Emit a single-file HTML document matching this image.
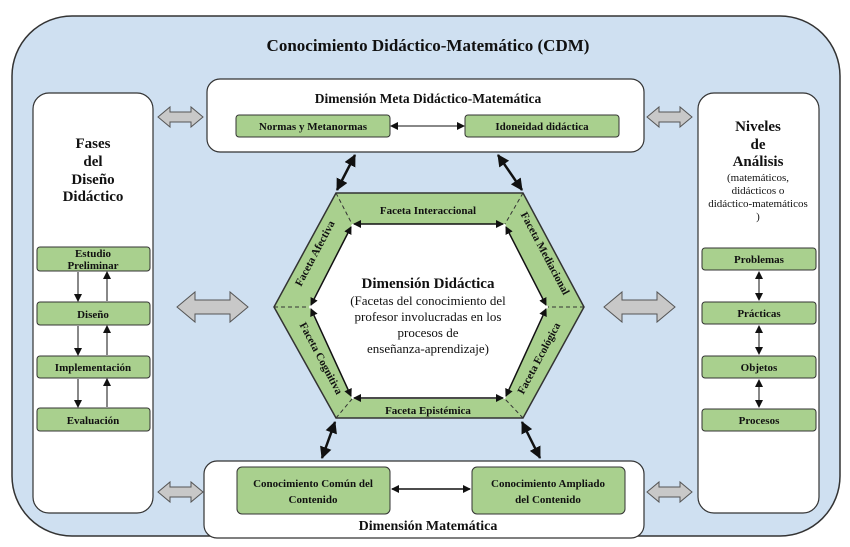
<!DOCTYPE html>
<html><head><meta charset="utf-8"><style>
html,body{margin:0;padding:0;background:#fff;}
svg{display:block;}
text{font-family:"Liberation Serif",serif;font-weight:bold;fill:#111;}
.n{font-weight:normal;}
</style></head><body>
<svg width="850" height="547" viewBox="0 0 850 547" xmlns="http://www.w3.org/2000/svg">
<defs>
<marker id="a" markerWidth="8" markerHeight="8" refX="7" refY="4" orient="auto-start-reverse" markerUnits="userSpaceOnUse"><path d="M0,0 L8,4 L0,8 z" fill="#111"/></marker>
<marker id="b" markerWidth="12" markerHeight="12" refX="11" refY="6" orient="auto-start-reverse" markerUnits="userSpaceOnUse"><path d="M0,0 L12,6 L0,12 z" fill="#111"/></marker>
<g id="ga"><path d="M0,0 L12,-10 L12,-5 L33,-5 L33,-10 L45,0 L33,10 L33,5 L12,5 L12,10 z" fill="#c8c8c8" stroke="#555" stroke-width="1"/></g>
<g id="gb"><path d="M0,0 L18,-15 L18,-7 L53,-7 L53,-15 L71,0 L53,15 L53,7 L18,7 L18,15 z" fill="#c8c8c8" stroke="#555" stroke-width="1"/></g>
</defs>
<rect x="12" y="16" width="828" height="520" rx="60" fill="#cfe0f1" stroke="#333" stroke-width="1.5"/>
<text x="428" y="51" font-size="17" text-anchor="middle">Conocimiento Didáctico-Matemático (CDM)</text>

<rect x="33" y="93" width="120" height="420" rx="16" fill="#fff" stroke="#333" stroke-width="1.2"/>
<g font-size="15" text-anchor="middle">
<text x="93" y="148">Fases</text><text x="93" y="166">del</text><text x="93" y="184">Diseño</text><text x="93" y="201">Didáctico</text>
</g>
<g fill="#a9d08e" stroke="#333" stroke-width="1">
<rect x="37" y="247" width="113" height="24" rx="3"/>
<rect x="37" y="302" width="113" height="23" rx="3"/>
<rect x="37" y="356" width="113" height="22" rx="3"/>
<rect x="37" y="408" width="113" height="23" rx="3"/>
</g>
<g font-size="11" text-anchor="middle">
<text x="93" y="257">Estudio</text><text x="93" y="269">Preliminar</text>
<text x="93" y="318">Diseño</text>
<text x="93" y="371">Implementación</text>
<text x="93" y="424">Evaluación</text>
</g>
<g stroke="#111" stroke-width="1">
<line x1="78" y1="272" x2="78" y2="301" marker-end="url(#a)"/>
<line x1="107" y1="301" x2="107" y2="272" marker-end="url(#a)"/>
<line x1="78" y1="326" x2="78" y2="355" marker-end="url(#a)"/>
<line x1="107" y1="355" x2="107" y2="326" marker-end="url(#a)"/>
<line x1="78" y1="379" x2="78" y2="407" marker-end="url(#a)"/>
<line x1="107" y1="407" x2="107" y2="379" marker-end="url(#a)"/>
</g>

<rect x="698" y="93" width="121" height="420" rx="16" fill="#fff" stroke="#333" stroke-width="1.2"/>
<g font-size="15" text-anchor="middle">
<text x="758" y="131">Niveles</text><text x="758" y="149">de</text><text x="758" y="166">Análisis</text>
</g>
<g font-size="11" text-anchor="middle">
<text class="n" x="758" y="181">(matemáticos,</text><text class="n" x="758" y="194">didácticos o</text><text class="n" x="758" y="207">didáctico-matemáticos</text><text class="n" x="758" y="220">)</text>
</g>
<g fill="#a9d08e" stroke="#333" stroke-width="1">
<rect x="702" y="248" width="114" height="22" rx="3"/>
<rect x="702" y="302" width="114" height="22" rx="3"/>
<rect x="702" y="356" width="114" height="22" rx="3"/>
<rect x="702" y="409" width="114" height="22" rx="3"/>
</g>
<g font-size="11" text-anchor="middle">
<text x="759" y="263">Problemas</text>
<text x="759" y="317">Prácticas</text>
<text x="759" y="371">Objetos</text>
<text x="759" y="424">Procesos</text>
</g>
<g stroke="#111" stroke-width="1" marker-end="url(#a)" marker-start="url(#a)">
<line x1="759" y1="272" x2="759" y2="300"/>
<line x1="759" y1="326" x2="759" y2="354"/>
<line x1="759" y1="380" x2="759" y2="407"/>
</g>

<rect x="207" y="79" width="437" height="73" rx="13" fill="#fff" stroke="#333" stroke-width="1.2"/>
<text x="428" y="103" font-size="13.5" text-anchor="middle">Dimensión Meta Didáctico-Matemática</text>
<g fill="#a9d08e" stroke="#333" stroke-width="1">
<rect x="236" y="115" width="154" height="22" rx="3"/>
<rect x="465" y="115" width="154" height="22" rx="3"/>
</g>
<text x="313" y="130" font-size="11" text-anchor="middle">Normas y Metanormas</text>
<text x="542" y="130" font-size="11" text-anchor="middle">Idoneidad didáctica</text>
<line x1="391" y1="126" x2="464" y2="126" stroke="#111" stroke-width="1" marker-start="url(#a)" marker-end="url(#a)"/>

<rect x="204" y="461" width="440" height="77" rx="13" fill="#fff" stroke="#333" stroke-width="1.2"/>
<text x="428" y="530" font-size="14" text-anchor="middle">Dimensión Matemática</text>
<g fill="#a9d08e" stroke="#333" stroke-width="1">
<rect x="237" y="467" width="153" height="47" rx="5"/>
<rect x="472" y="467" width="153" height="47" rx="5"/>
</g>
<g font-size="11" text-anchor="middle">
<text x="313" y="487">Conocimiento Común del</text><text x="313" y="503">Contenido</text>
<text x="548" y="487">Conocimiento Ampliado</text><text x="548" y="503">del Contenido</text>
</g>
<line x1="392" y1="489" x2="470" y2="489" stroke="#111" stroke-width="1.5" marker-start="url(#a)" marker-end="url(#a)"/>

<polygon points="336,193 523,193 584,307 523,418 336,418 274,307" fill="#a9d08e" stroke="#333" stroke-width="1.5"/>
<polygon points="352,224 505,224 548,307 505,399 352,399 309,307" fill="#fff"/>
<g stroke="#333" stroke-width="1" stroke-dasharray="4,3">
<line x1="336" y1="193" x2="352" y2="224"/><line x1="523" y1="193" x2="505" y2="224"/>
<line x1="584" y1="307" x2="548" y2="307"/><line x1="523" y1="418" x2="505" y2="399"/>
<line x1="336" y1="418" x2="352" y2="399"/><line x1="274" y1="307" x2="309" y2="307"/>
</g>
<g stroke="#111" stroke-width="1.5" marker-start="url(#a)" marker-end="url(#a)">
<line x1="354" y1="224" x2="503" y2="224"/>
<line x1="354" y1="398" x2="503" y2="398"/>
<line x1="351" y1="227" x2="311" y2="305"/>
<line x1="311" y1="309" x2="351" y2="396"/>
<line x1="506" y1="227" x2="546" y2="305"/>
<line x1="546" y1="309" x2="506" y2="396"/>
</g>
<g font-size="11" text-anchor="middle">
<text x="428" y="214">Faceta Interaccional</text>
<text x="428" y="414">Faceta Epistémica</text>
<text transform="translate(318,255) rotate(-62)">Faceta  Afectiva</text>
<text transform="translate(318,360) rotate(62)">Faceta Cognitiva</text>
<text transform="translate(542,255) rotate(62)">Faceta Mediacional</text>
<text transform="translate(542,360) rotate(-62)">Faceta Ecológica</text>
</g>
<text x="428" y="288" font-size="15" text-anchor="middle">Dimensión Didáctica</text>
<g font-size="13" text-anchor="middle">
<text class="n" x="428" y="305">(Facetas del conocimiento del</text>
<text class="n" x="428" y="321">profesor involucradas en los</text>
<text class="n" x="428" y="337">procesos de</text>
<text class="n" x="428" y="353">enseñanza-aprendizaje)</text>
</g>

<g stroke="#111" stroke-width="2.5" marker-start="url(#b)" marker-end="url(#b)">
<line x1="355" y1="155" x2="337" y2="190"/>
<line x1="498" y1="155" x2="522" y2="190"/>
<line x1="335" y1="422" x2="322" y2="458"/>
<line x1="522" y1="422" x2="540" y2="458"/>
</g>

<use href="#ga" x="158" y="117"/>
<use href="#ga" x="647" y="117"/>
<use href="#ga" x="158" y="492"/>
<use href="#ga" x="647" y="492"/>
<use href="#gb" x="177" y="307"/>
<use href="#gb" x="604" y="307"/>
</svg>
</body></html>
